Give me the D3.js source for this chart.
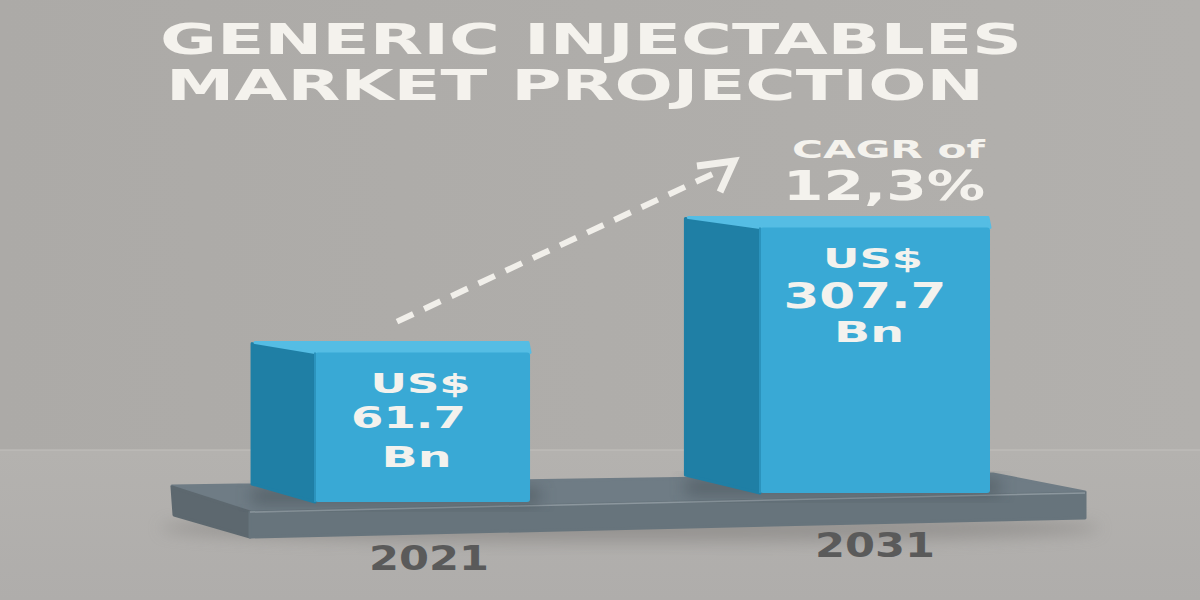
<!DOCTYPE html>
<html>
<head>
<meta charset="utf-8">
<script src="https://cdn.jsdelivr.net/npm/d3@7"></script>
<style>
  body { margin: 0; background: #afadaa; }
  svg { display: block; }
</style>
</head>
<body>
<svg id="chart"></svg>
<script>
// data
const years = ["2021", "2031"];
const values = [61.7, 307.7];
const unitTop = "US$";
const unitBottom = "Bn";
const titleLines = ["GENERIC INJECTABLES", "MARKET PROJECTION"];
const cagrLines = ["CAGR of", "12,3%"];

const width = 1200;
const height = 600;
const font = "'DejaVu Sans', Verdana, sans-serif";

const svg = d3.select("#chart")
    .attr("width", width)
    .attr("height", height);

const defs = svg.append("defs");

const wall = defs.append("linearGradient").attr("id", "wall")
    .attr("x1", 0).attr("x2", 1).attr("y1", 0).attr("y2", 0);
wall.append("stop").attr("offset", "0%").attr("stop-color", "#acaaa7");
wall.append("stop").attr("offset", "100%").attr("stop-color", "#b2b0ad");

const floorG = defs.append("linearGradient").attr("id", "floor")
    .attr("x1", 0).attr("x2", 0).attr("y1", 0).attr("y2", 1);
floorG.append("stop").attr("offset", "0%").attr("stop-color", "#b4b2af");
floorG.append("stop").attr("offset", "100%").attr("stop-color", "#afadab");

defs.append("filter").attr("id", "blur")
    .attr("x", "-20%").attr("y", "-50%").attr("width", "140%").attr("height", "200%")
  .append("feGaussianBlur").attr("stdDeviation", 8);

// background: wall + floor
svg.append("rect").attr("width", width).attr("height", 450).attr("fill", "url(#wall)");
svg.append("rect").attr("y", 450).attr("width", width).attr("height", 150).attr("fill", "url(#floor)");
svg.append("line")
    .attr("x1", 0).attr("x2", width).attr("y1", 450).attr("y2", 450)
    .attr("stroke", "#c2c0bd").attr("stroke-width", 1);

// scales
const xScale = d3.scaleBand()
    .domain(years)
    .range([315, 990])
    .paddingInner(0.483)
    .paddingOuter(0);

// pictorial (perspective) height scale
const yScale = d3.scaleLinear()
    .domain([0, 350])
    .range([384, 206]);

// top of the platform under each bar
const floorY = d3.scaleLinear().domain([315, 760]).range([502, 493]);

// shadow under the platform
svg.append("ellipse")
    .attr("cx", 630).attr("cy", 528).attr("rx", 470).attr("ry", 14)
    .attr("fill", "#7f7d7a").attr("opacity", 0.55)
    .attr("filter", "url(#blur)");

// platform
const plat = svg.append("g").attr("stroke-linejoin", "round");
plat.append("polygon")
    .attr("points", "172,486 993,474 1085,492 250,512")
    .attr("fill", "#6f7c85").attr("stroke", "#6f7c85").attr("stroke-width", 3);
plat.append("polygon")
    .attr("points", "172,487 250,512 250,537 174,515")
    .attr("fill", "#5d686f").attr("stroke", "#5d686f").attr("stroke-width", 3);
plat.append("polygon")
    .attr("points", "250,512 1085,493 1085,518 250,537")
    .attr("fill", "#67747c").attr("stroke", "#67747c").attr("stroke-width", 3);
plat.append("line")
    .attr("x1", 250).attr("y1", 512).attr("x2", 1085).attr("y2", 493)
    .attr("stroke", "#8c979e").attr("stroke-width", 1.5);

// bars
const bars = svg.selectAll("g.bar")
    .data(years.map((y, i) => ({ year: y, value: values[i] })))
    .join("g")
    .attr("class", "bar")
    .attr("stroke-linejoin", "round");

bars.each(function(d, i) {
  const g = d3.select(this);
  const x0 = xScale(d.year);
  const x1 = x0 + xScale.bandwidth() + (i === 0 ? -15 : 0);
  const top = yScale(d.value);
  const bottom = floorY(x0);
  const side = 48 + 0.1 * (bottom - top);

  // contact shadow
  g.append("rect")
      .attr("x", x0 - side).attr("y", bottom - 14)
      .attr("width", x1 - x0 + side + 10).attr("height", 16)
      .attr("fill", "#3e4950").attr("opacity", 0.5)
      .attr("filter", "url(#blur)");

  g.append("polygon")
      .attr("points", [[x0 - side, top - 9], [x0, top], [x0, bottom], [x0 - side, bottom - 18]].join(" "))
      .attr("fill", "#1f7fa5").attr("stroke", "#1f7fa5").attr("stroke-width", 3);
  g.append("polygon")
      .attr("points", [[x0 - side + 3, top - 10], [x1 - 2, top - 10], [x1, top], [x0, top]].join(" "))
      .attr("fill", "#55bde4").attr("stroke", "#55bde4").attr("stroke-width", 3);
  g.append("rect")
      .attr("x", x0).attr("y", top)
      .attr("width", x1 - x0).attr("height", bottom - top)
      .attr("rx", 3)
      .attr("fill", "#39a9d5");
  g.append("line")
      .attr("x1", x0).attr("x2", x0).attr("y1", top).attr("y2", bottom)
      .attr("stroke", "#2b93bd").attr("stroke-width", 2);

  const cx = (x0 + x1) / 2 - 6;
  const big = d.value > 100;
  const txt = g.append("g")
      .attr("fill", "#f3f2ee")
      .attr("font-family", font)
      .attr("font-weight", "bold")
      .attr("text-anchor", "middle")
      .attr("stroke", "none");
  txt.append("text")
      .attr("x", cx + 4).attr("y", top + 40)
      .attr("font-size", 26)
      .attr("textLength", 100).attr("lengthAdjust", "spacingAndGlyphs")
      .text(unitTop);
  txt.append("text")
      .attr("x", big ? cx - 4 : cx - 8).attr("y", top + (big ? 80 : 75))
      .attr("font-size", big ? 36 : 31)
      .attr("textLength", big ? 163 : 115).attr("lengthAdjust", "spacingAndGlyphs")
      .text(d3.format(".1f")(d.value));
  txt.append("text")
      .attr("x", cx).attr("y", top + 114)
      .attr("font-size", 28)
      .attr("textLength", 70).attr("lengthAdjust", "spacingAndGlyphs")
      .text(unitBottom);
});

// year labels
svg.selectAll("text.year")
    .data(years)
    .join("text")
    .attr("class", "year")
    .attr("x", (d, i) => xScale(d) + xScale.bandwidth() / 2 + (i === 0 ? -1 : 0))
    .attr("y", d => floorY(xScale(d)) + (d === years[0] ? 68 : 64))
    .attr("text-anchor", "middle")
    .attr("font-family", font)
    .attr("font-weight", "bold")
    .attr("font-size", 33)
    .attr("fill", "#5a5a5a")
    .attr("textLength", 120).attr("lengthAdjust", "spacingAndGlyphs")
    .text(d => d);

// title
svg.selectAll("text.title")
    .data(titleLines)
    .join("text")
    .attr("class", "title")
    .attr("x", (d, i) => i === 0 ? 160 : 166)
    .attr("y", (d, i) => 54 + i * 46)
    .attr("font-family", font)
    .attr("font-weight", "bold")
    .attr("font-size", 42)
    .attr("fill", "#f4f2ed")
    .attr("textLength", (d, i) => i === 0 ? 862 : 818)
    .attr("lengthAdjust", "spacingAndGlyphs")
    .text(d => d);

// CAGR annotation
svg.append("text")
    .attr("x", 792).attr("y", 158)
    .attr("font-family", font).attr("font-weight", "bold")
    .attr("font-size", 24).attr("fill", "#f4f2ed")
    .attr("textLength", 193).attr("lengthAdjust", "spacingAndGlyphs")
    .text(cagrLines[0]);
svg.append("text")
    .attr("x", 783).attr("y", 200)
    .attr("font-family", font).attr("font-weight", "bold")
    .attr("font-size", 40).attr("fill", "#f4f2ed")
    .attr("textLength", 202).attr("lengthAdjust", "spacingAndGlyphs")
    .text(cagrLines[1]);

// dashed growth arrow from first bar towards the CAGR label
const a0 = [xScale(years[0]) + 82, yScale(values[0]) - 31];
const a1 = [725, 168];
svg.append("line")
    .attr("x1", a0[0]).attr("y1", a0[1])
    .attr("x2", a1[0] - 6).attr("y2", a1[1] + 3)
    .attr("stroke", "#f1efea").attr("stroke-width", 6)
    .attr("stroke-dasharray", "18,12");
svg.append("path")
    .attr("d", `M${a1[0] - 28},${a1[1] - 2} L${a1[0] + 9},${a1[1] - 7} L${a1[0] - 5},${a1[1] + 24}`)
    .attr("fill", "none")
    .attr("stroke", "#f1efea").attr("stroke-width", 7)
    .attr("stroke-linejoin", "miter");
</script>
</body>
</html>
